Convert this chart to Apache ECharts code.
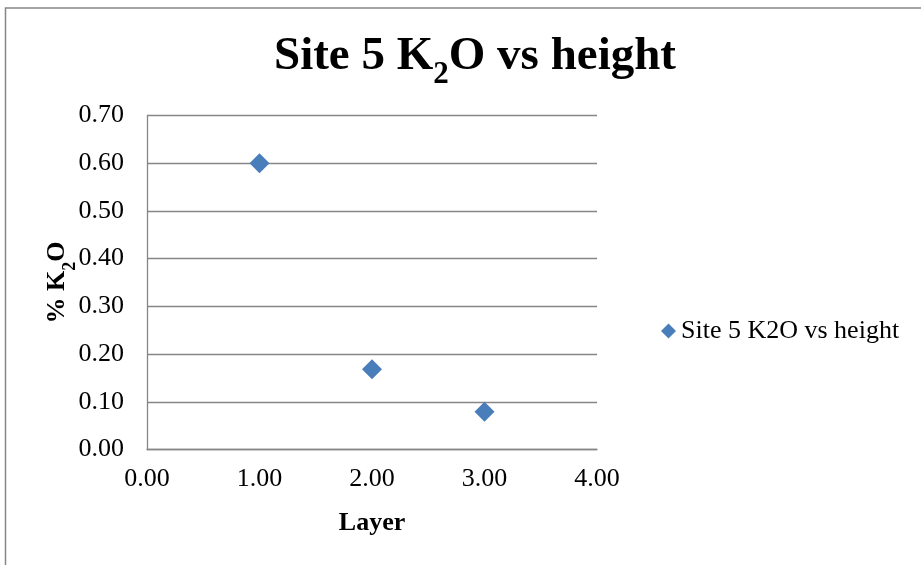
<!DOCTYPE html>
<html>
<head>
<meta charset="utf-8">
<script src="https://cdn.jsdelivr.net/npm/echarts@6/dist/echarts.min.js"></script>
<style>
  html, body { margin: 0; padding: 0; background: #fff; }
  #chart { width: 921px; height: 565px; }
</style>
</head>
<body>
<div id="chart"></div>
<script>
// Layer number against measured potassium oxide content
const layers = [1, 2, 3];
const k2oPercent = [0.60, 0.168, 0.079];
const seriesName = 'Site 5 K2O vs height';

const serif = '"Liberation Serif", "Times New Roman", serif';
const chart = echarts.init(document.getElementById('chart'));

chart.setOption({
  backgroundColor: '#fff',
  animation: false,
  graphic: [{
    type: 'rect',
    shape: { x: 5.5, y: 8, width: 930, height: 570 },
    style: { fill: 'none', stroke: '#868686', lineWidth: 1.5 },
    silent: true
  }],
  title: {
    text: '{t|Site 5 K}{s|2}{t|O vs height}',
    left: 470,
    textAlign: 'center',
    top: 28,
    textStyle: {
      rich: {
        t: { fontFamily: serif, fontWeight: 'bold', fontSize: 47, color: '#000' },
        s: { fontFamily: serif, fontWeight: 'bold', fontSize: 31, color: '#000', verticalAlign: 'bottom', padding: [0, 0, -10, 0] }
      }
    }
  },
  legend: {
    left: 656,
    top: 313,
    itemWidth: 15,
    itemHeight: 15,
    itemGap: 4,
    textStyle: { fontFamily: serif, fontSize: 26, color: '#000' },
    data: [{ name: seriesName, icon: 'diamond', itemStyle: { color: '#4a7ebb', opacity: 1 } }]
  },
  grid: { left: 147, top: 115.5, width: 450, height: 334 },
  xAxis: {
    type: 'value',
    min: 0, max: 4, interval: 1,
    name: 'Layer',
    nameLocation: 'middle',
    nameGap: 61,
    nameMoveOverlap: false,
    nameTextStyle: { fontFamily: serif, fontWeight: 'bold', fontSize: 26, color: '#000' },
    axisLine: { show: true, lineStyle: { color: '#868686', width: 1.3 } },
    axisTick: { show: false },
    splitLine: { show: false },
    axisLabel: {
      margin: 17,
      fontFamily: serif, fontSize: 26, color: '#000',
      formatter: v => v.toFixed(2)
    }
  },
  yAxis: {
    type: 'value',
    min: 0, max: 0.7, interval: 0.1,
    name: '{t|% K}{s|2}{t|O}',
    nameLocation: 'middle',
    nameRotate: 90,
    nameGap: 77,
    nameMoveOverlap: false,
    nameTextStyle: {
      rich: {
        t: { fontFamily: serif, fontWeight: 'bold', fontSize: 26, color: '#000' },
        s: { fontFamily: serif, fontWeight: 'bold', fontSize: 18, color: '#000', verticalAlign: 'bottom', padding: [0, 0, -9, 0] }
      }
    },
    axisLine: { show: true, lineStyle: { color: '#868686', width: 1.3 } },
    axisTick: { show: false },
    splitLine: { show: true, lineStyle: { color: '#868686', width: 1.3 } },
    axisLabel: {
      margin: 23,
      padding: [5, 0, 0, 0],
      fontFamily: serif, fontSize: 26, color: '#000',
      formatter: v => v.toFixed(2)
    }
  },
  series: [{
    name: seriesName,
    type: 'scatter',
    symbol: 'diamond',
    symbolSize: 20,
    itemStyle: { color: '#4a7ebb', opacity: 1 },
    data: layers.map((x, i) => [x, k2oPercent[i]])
  }]
});
</script>
</body>
</html>
